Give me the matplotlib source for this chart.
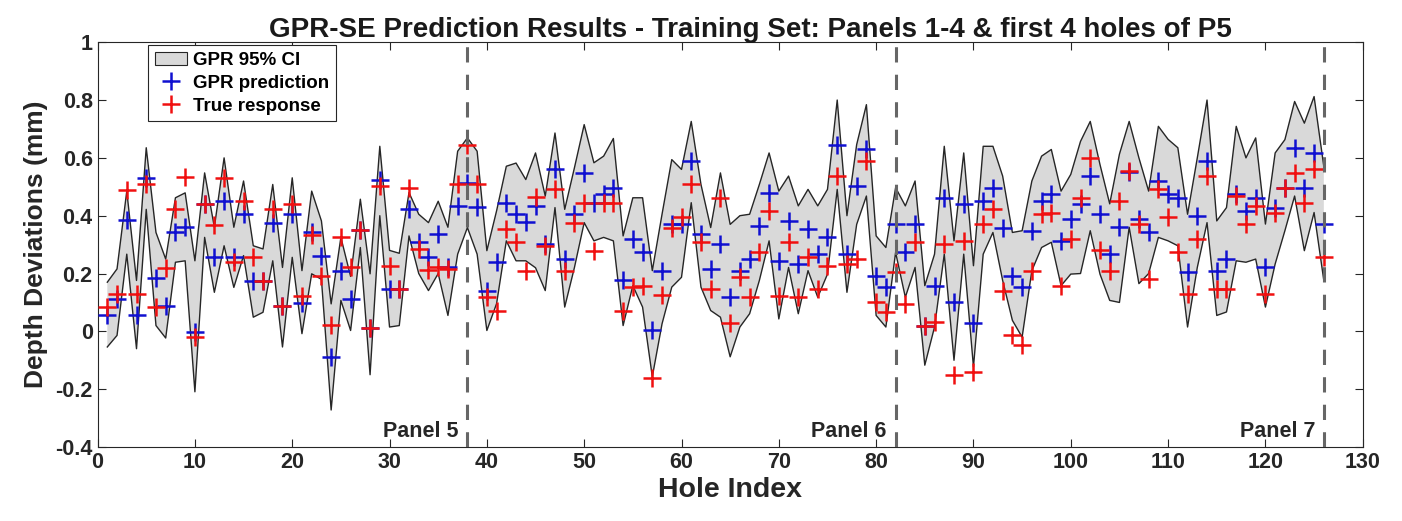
import matplotlib
matplotlib.use("Agg")
import matplotlib.pyplot as plt
import numpy as np
from matplotlib.patches import Patch
from matplotlib.lines import Line2D

plt.rcParams['font.family'] = ['Liberation Sans', 'DejaVu Sans']
plt.rcParams['font.weight'] = 'bold'

hole_index = list(range(1, 127))

gpr_prediction = [
    0.055, 0.112, 0.384, 0.055, 0.531, 0.184, 0.087, 0.342, 0.362, -0.002,
    0.44, 0.258, 0.45, 0.256, 0.406, 0.175, 0.175, 0.376, 0.089, 0.406,
    0.098, 0.345, 0.262, -0.088, 0.208, 0.112, 0.35, 0.01, 0.525, 0.147,
    0.147, 0.422, 0.308, 0.256, 0.336, 0.221, 0.434, 0.514, 0.431, 0.138,
    0.24, 0.443, 0.406, 0.377, 0.434, 0.302, 0.56, 0.25, 0.405, 0.548,
    0.445, 0.474, 0.497, 0.176, 0.319, 0.273, 0.006, 0.21, 0.37, 0.37,
    0.589, 0.336, 0.216, 0.302, 0.12, 0.21, 0.25, 0.365, 0.48, 0.244,
    0.382, 0.233, 0.353, 0.267, 0.325, 0.646, 0.267, 0.503, 0.629, 0.193,
    0.153, 0.37, 0.273, 0.373, 0.017, 0.158, 0.462, 0.101, 0.44, 0.029,
    0.451, 0.497, 0.359, 0.193, 0.153, 0.348, 0.451, 0.474, 0.313, 0.388,
    0.44, 0.537, 0.406, 0.267, 0.361, 0.55, 0.39, 0.342, 0.52, 0.476,
    0.462, 0.204, 0.4, 0.589, 0.21, 0.25, 0.474, 0.416, 0.462, 0.221,
    0.428, 0.497, 0.635, 0.497, 0.617, 0.373,
]

true_response = [
    0.084, 0.13, 0.488, 0.13, 0.51, 0.084, 0.22, 0.422, 0.533, -0.02,
    0.44, 0.368, 0.529, 0.239, 0.451, 0.258, 0.175, 0.422, 0.089, 0.44,
    0.124, 0.333, 0.193, 0.021, 0.327, 0.221, 0.35, 0.01, 0.503, 0.227,
    0.147, 0.497, 0.285, 0.212, 0.221, 0.216, 0.508, 0.646, 0.508, 0.12,
    0.072, 0.353, 0.31, 0.21, 0.464, 0.296, 0.491, 0.21, 0.376, 0.445,
    0.279, 0.445, 0.445, 0.072, 0.153, 0.158, -0.163, 0.127, 0.359, 0.394,
    0.508, 0.308, 0.147, 0.462, 0.03, 0.187, 0.118, 0.273, 0.416, 0.124,
    0.308, 0.118, 0.256, 0.147, 0.227, 0.537, 0.233, 0.25, 0.589, 0.101,
    0.067, 0.204, 0.095, 0.308, 0.017, 0.032, 0.302, -0.151, 0.313, -0.14,
    0.371, 0.422, 0.141, -0.014, -0.048, 0.21, 0.405, 0.411, 0.158, 0.319,
    0.462, 0.6, 0.283, 0.21, 0.451, 0.555, 0.371, 0.182, 0.491, 0.394,
    0.273, 0.13, 0.319, 0.537, 0.147, 0.147, 0.468, 0.371, 0.434, 0.13,
    0.411, 0.497, 0.548, 0.445, 0.56, 0.258,
]

ci_upper = [
    0.17, 0.216, 0.485, 0.176, 0.635, 0.342, 0.25, 0.462, 0.479, 0.244,
    0.548, 0.36, 0.6, 0.36, 0.52, 0.296, 0.285, 0.508, 0.221, 0.531,
    0.21, 0.485, 0.382, 0.095, 0.325, 0.19, 0.457, 0.199, 0.64, 0.28,
    0.27, 0.48, 0.405, 0.376, 0.45, 0.36, 0.623, 0.669, 0.623, 0.279,
    0.417, 0.571, 0.582, 0.525, 0.617, 0.468, 0.686, 0.422, 0.566, 0.715,
    0.583, 0.606, 0.667, 0.33, 0.462, 0.462, 0.21, 0.405, 0.594, 0.56,
    0.726, 0.508, 0.359, 0.548, 0.37, 0.4, 0.405, 0.508, 0.617, 0.485,
    0.537, 0.434, 0.491, 0.434, 0.491, 0.8, 0.4, 0.646, 0.784, 0.33,
    0.29, 0.497, 0.434, 0.52, 0.158, 0.267, 0.64, 0.313, 0.617, 0.227,
    0.64, 0.64, 0.537, 0.342, 0.348, 0.52, 0.606, 0.629, 0.485, 0.543,
    0.657, 0.726, 0.577, 0.441, 0.613, 0.726, 0.6, 0.485, 0.709, 0.664,
    0.635, 0.405, 0.6, 0.8, 0.382, 0.428, 0.709, 0.6, 0.669, 0.371,
    0.617, 0.663, 0.795, 0.72, 0.812, 0.57,
]

ci_lower = [
    -0.054, -0.014, 0.267, -0.06, 0.422, 0.02, -0.023, 0.239, 0.244, -0.209,
    0.325, 0.135, 0.296, 0.152, 0.262, 0.049, 0.066, 0.244, -0.054, 0.256,
    -0.008, 0.199, 0.18, -0.272, 0.107, 0.003, 0.29, -0.15, 0.4, 0.015,
    0.02, 0.33, 0.2, 0.141, 0.2, 0.055, 0.267, 0.359, 0.267, 0.003,
    0.096, 0.313, 0.244, 0.244, 0.22, 0.141, 0.428, 0.084, 0.221, 0.376,
    0.313, 0.325, 0.313, 0.02, 0.158, 0.084, -0.157, 0.026, 0.153, 0.187,
    0.445, 0.153, 0.072, 0.049, -0.088, 0.015, 0.061, 0.176, 0.313, 0.043,
    0.221, 0.061, 0.21, 0.118, 0.198, 0.491, 0.135, 0.37, 0.468, 0.055,
    0.015, 0.273, 0.118, 0.221, -0.117, 0.015, 0.267, -0.1, 0.267, -0.123,
    0.267, 0.342, 0.176, 0.038, -0.02, 0.21, 0.29, 0.308, 0.158, 0.198,
    0.2, 0.348, 0.198, 0.107, 0.1, 0.36, 0.165, 0.2, 0.325, 0.313,
    0.296, 0.015, 0.221, 0.376, 0.055, 0.067, 0.244, 0.239, 0.25, 0.084,
    0.233, 0.348, 0.468, 0.279, 0.411, 0.176,
]

panel_boundaries = [38, 82, 126]
panel_labels = ["Panel 5", "Panel 6", "Panel 7"]

x_ticks = list(range(0, 131, 10))
y_ticks = [-0.4, -0.2, 0, 0.2, 0.4, 0.6, 0.8, 1]
y_tick_labels = ["-0.4", "-0.2", "0", "0.2", "0.4", "0.6", "0.8", "1"]

dark = (0.15, 0.15, 0.15)
fig = plt.figure(figsize=(14.02, 5.21), dpi=100)
ax = fig.add_axes([0.0696, 0.142, 0.9024, 0.777])

x = np.array(hole_index)
ax.fill_between(x, ci_lower, ci_upper, facecolor=(0.85, 0.85, 0.85), edgecolor='none', zorder=1)
ax.plot(x, ci_upper, color=dark, lw=1.0, zorder=2)
ax.plot(x, ci_lower, color=dark, lw=1.0, zorder=2)
ax.plot(x, gpr_prediction, linestyle='none', marker='+', color='#1010d0', ms=13, mew=1.8, zorder=3)
ax.plot(x, true_response, linestyle='none', marker='+', color='#f01010', ms=13, mew=1.8, zorder=4)

for b, lab in zip(panel_boundaries, panel_labels):
    ax.axvline(b, color=(0.4, 0.4, 0.4), lw=2.2, linestyle=(0, (5, 4)), zorder=5)
    ax.text(b - 0.9, -0.345, lab, ha='right', va='center', fontsize=15.5,
            fontweight='bold', color=dark)

ax.set_xlim(0, 130)
ax.set_ylim(-0.4, 1)
ax.set_xticks(x_ticks)
ax.set_yticks(y_ticks)
ax.set_yticklabels(y_tick_labels)
ax.tick_params(direction='in', top=True, right=True, length=6, width=0.8,
               labelsize=15.5, colors=dark)
for lab in ax.get_xticklabels() + ax.get_yticklabels():
    lab.set_fontweight('bold')
for sp in ax.spines.values():
    sp.set_color(dark)
    sp.set_linewidth(0.8)

ax.set_xlabel("Hole Index", fontsize=20.5, fontweight='bold', color=dark, labelpad=3)
ax.set_ylabel("Depth Deviations (mm)", fontsize=19, fontweight='bold', color=dark, labelpad=5)
ax.set_title("GPR-SE Prediction Results - Training Set: Panels 1-4 & first 4 holes of P5",
             fontsize=20, fontweight='bold', color=(0.1, 0.1, 0.1), pad=4, x=0.516)

handles = [
    Patch(facecolor=(0.85, 0.85, 0.85), edgecolor=dark, lw=0.8),
    Line2D([], [], linestyle='none', marker='+', color='#1010d0', ms=13, mew=1.8),
    Line2D([], [], linestyle='none', marker='+', color='#f01010', ms=13, mew=1.8),
]
leg = ax.legend(handles, ["GPR 95% CI", "GPR prediction", "True response"],
                loc='upper left', bbox_to_anchor=(0.04, 0.992),
                prop={'weight': 'bold', 'size': 13.5}, frameon=True, fancybox=False,
                edgecolor=dark, framealpha=1, borderpad=0.35,
                labelspacing=0.3, handlelength=1.7, handletextpad=0.35, borderaxespad=0)
leg.get_frame().set_linewidth(0.8)

fig.savefig("out.png", dpi=100)
